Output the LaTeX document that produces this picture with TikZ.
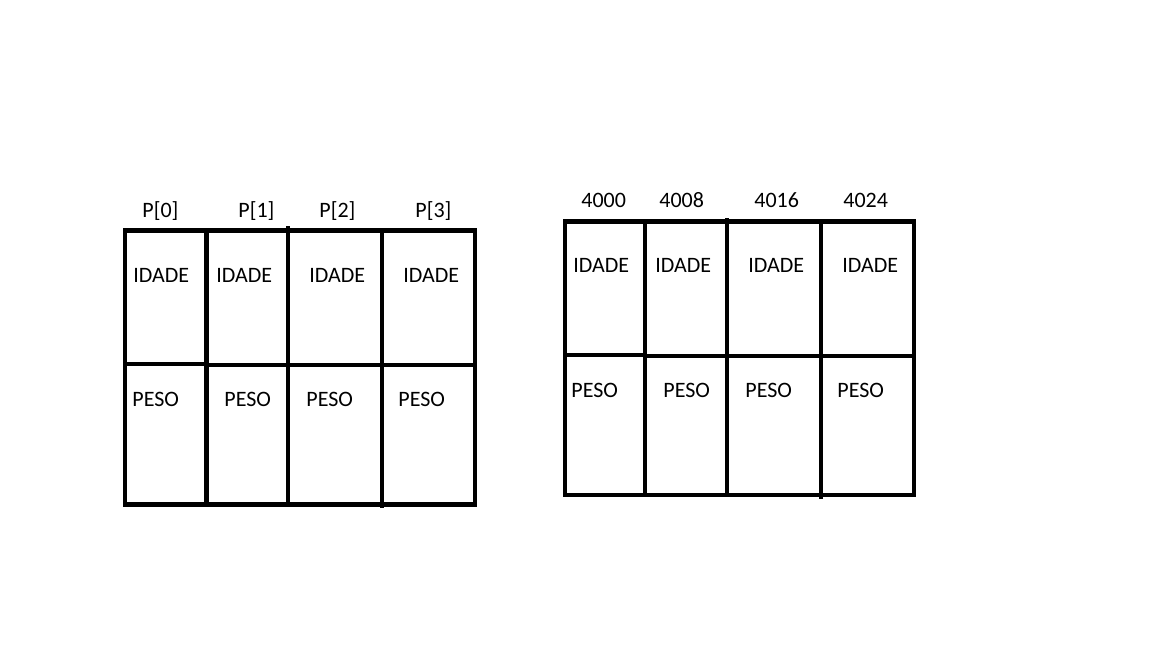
\documentclass[tikz,border=0pt]{standalone}
\usepackage{fontspec}
\setmainfont{Carlito}
\begin{document}
\begin{tikzpicture}[x=0.5pt, y=-0.5pt, line width=2.4pt]
	\tikzset{lbl/.style={anchor=base west, inner sep=0pt, xshift=-1pt, font=\fontsize{11}{13}\selectfont}}
	\useasboundingbox (0,0) rectangle (1152,648);
	% vetor de structs
	\draw (125,230.5) rectangle (475,504.5);
	\draw (125,364) -- (207,364);
	\draw (207,365) -- (475,365);
	\draw (206.5,230.5) -- (206.5,504.5);
	\draw (288,226) -- (288,504.5);
	\draw (382,230.5) -- (382,508);
	\node[lbl] (p0) at (142,217) {P[0]};
	\node[lbl] (p1) at (238,217) {P[1]};
	\node[lbl] (p2) at (319,217) {P[2]};
	\node[lbl] (p3) at (415,217) {P[3]};
	\node[lbl] (ia) at (133,282) {IDADE};
	\node[lbl] (ib) at (216,282) {IDADE};
	\node[lbl] (ic) at (309,282) {IDADE};
	\node[lbl] (id) at (403,282) {IDADE};
	\node[lbl] (pa) at (132,406) {PESO};
	\node[lbl] (pb) at (224,406) {PESO};
	\node[lbl] (pc) at (306,406) {PESO};
	\node[lbl] (pd) at (398,406) {PESO};
	% enderecos na memoria
	\draw (565,221.5) rectangle (914,495);
	\draw (565,355) -- (645,355);
	\draw (645,356) -- (914,356);
	\draw (645,221.5) -- (645,495);
	\draw (727,218) -- (727,495);
	\draw (821,221.5) -- (821,499);
	\node[lbl] (m0) at (581,207) {4000};
	\node[lbl] (m1) at (659,207) {4008};
	\node[lbl] (m2) at (754,207) {4016};
	\node[lbl] (m3) at (843,207) {4024};
	\node[lbl] (ja) at (573,272) {IDADE};
	\node[lbl] (jb) at (655,272) {IDADE};
	\node[lbl] (jc) at (748,272) {IDADE};
	\node[lbl] (jd) at (842,272) {IDADE};
	\node[lbl] (qa) at (571,397) {PESO};
	\node[lbl] (qb) at (663,397) {PESO};
	\node[lbl] (qc) at (745,397) {PESO};
	\node[lbl] (qd) at (837,397) {PESO};
\end{tikzpicture}
\end{document}
